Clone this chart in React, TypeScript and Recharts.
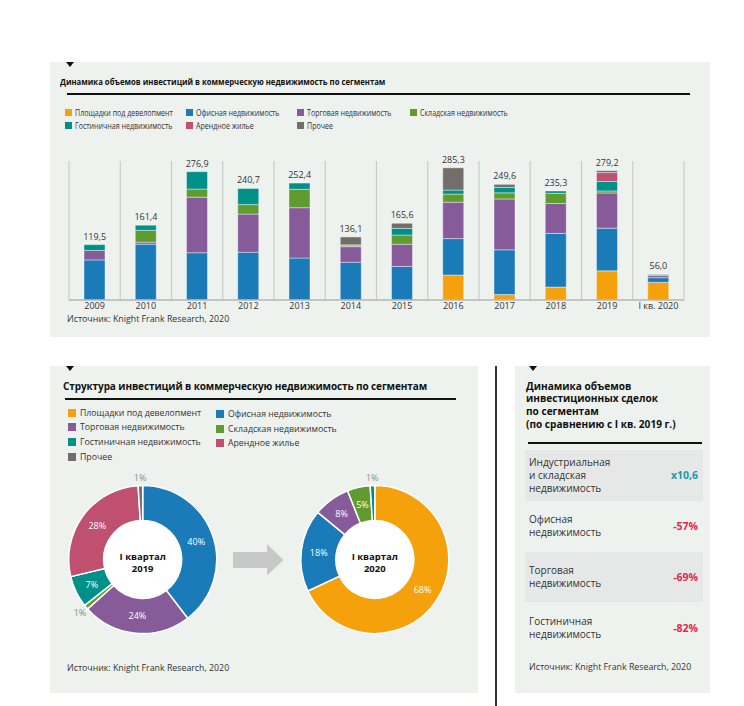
import React from 'react';
import {
  ComposedChart,
  Bar,
  Line,
  XAxis,
  YAxis,
  CartesianGrid,
  LabelList,
  PieChart,
  Pie,
  Cell,
} from 'recharts';

// --- data: investment volume by segment, bln rub ---
const years = ['2009', '2010', '2011', '2012', '2013', '2014', '2015', '2016', '2017', '2018', '2019', 'I кв. 2020'];
const development = [0, 0, 0, 0, 0, 0, 0, 53.9, 11.7, 27.9, 62.9, 38.1];
const office = [86.5, 120.5, 102, 103, 90.6, 81.5, 72.5, 78.6, 96.6, 115.8, 92.1, 10.1];
const retail = [20.5, 4.4, 120, 82.5, 108.6, 33.6, 47.9, 78.6, 109.8, 64.5, 76, 4.5];
const warehouse = [0, 25.5, 17.5, 20.4, 39.8, 2, 19.8, 17.5, 13.2, 22, 4.4, 2.8];
const hotel = [12.5, 11, 37.4, 34.8, 13.4, 2, 14.4, 8.7, 11.7, 5.1, 20.5, 0.5];
const rental = [0, 0, 0, 0, 0, 0, 0, 0, 0, 0, 19, 0];
const other = [0, 0, 0, 0, 0, 17, 11, 48, 6.6, 0, 4.3, 0];
const totals = [119.5, 161.4, 276.9, 240.7, 252.4, 136.1, 165.6, 285.3, 249.6, 235.3, 279.2, 56.0];

const segmentKeys = ['development', 'office', 'retail', 'warehouse', 'hotel', 'rental', 'other'];
const segmentNames = [
  'Площадки под девелопмент',
  'Офисная недвижимость',
  'Торговая недвижимость',
  'Складская недвижимость',
  'Гостиничная недвижимость',
  'Арендное жилье',
  'Прочее',
];

// --- structure, % ---
const pie2019Keys = ['office', 'retail', 'warehouse', 'hotel', 'rental', 'other'];
const pie2019Share = [40, 24, 1, 7, 28, 1];
const pie2020Keys = ['development', 'office', 'retail', 'warehouse', 'hotel'];
const pie2020Share = [68, 18, 8, 5, 1];

// --- change vs I q. 2019 ---
const changeLabels = [
  ['Индустриальная', 'и складская', 'недвижимость'],
  ['Офисная', 'недвижимость'],
  ['Торговая', 'недвижимость'],
  ['Гостиничная', 'недвижимость'],
];
const changeValues = ['x10,6', '-57%', '-69%', '-82%'];

const COLORS: Record<string, string> = {
  development: '#f4a10c',
  office: '#1b7bb8',
  retail: '#875b99',
  warehouse: '#5f9b2f',
  hotel: '#00908a',
  rental: '#c0506f',
  other: '#736e6c',
};

const FONT = '"Open Sans", "Noto Sans", sans-serif';
const PANEL = '#eef2ef';
const SOURCE = 'Источник: Knight Frank Research, 2020';

const barData = years.map((year, i) => ({
  year,
  development: development[i],
  office: office[i],
  retail: retail[i],
  warehouse: warehouse[i],
  hotel: hotel[i],
  rental: rental[i],
  other: other[i],
  total: totals[i],
}));

const pie2019 = pie2019Keys.map((k, i) => ({ key: k, value: pie2019Share[i] }));
const pie2020 = pie2020Keys.map((k, i) => ({ key: k, value: pie2020Share[i] }));

// absolutely placed text, y = vertical centre; sx squeezes a line like the condensed source font
const Text = ({ x, y, size = 9, bold = false, color = '#2b2b2b', sx = 1, center = false, children, style = {} }: any) => {
  const lh = Math.round(size * 1.25);
  const tf = [center ? 'translateX(-50%)' : '', sx !== 1 ? `scaleX(${sx})` : ''].join(' ').trim();
  return (
    <div
      style={{
        position: 'absolute',
        left: x,
        top: y - lh / 2,
        lineHeight: `${lh}px`,
        fontSize: size,
        fontWeight: bold ? 700 : 400,
        color,
        whiteSpace: 'nowrap',
        transform: tf || undefined,
        transformOrigin: 'left center',
        ...style,
      }}
    >
      {children}
    </div>
  );
};

const CenterTitle = ({ x, year }: { x: number; year: string }) => (
  <div
    style={{
      position: 'absolute',
      left: x - 40,
      top: 551,
      width: 80,
      textAlign: 'center',
      fontSize: 9.5,
      lineHeight: '12px',
      fontWeight: 700,
      color: '#111',
    }}
  >
    I квартал
    <br />
    {year}
  </div>
);

const Triangle = ({ x, y }: { x: number; y: number }) => (
  <div
    style={{
      position: 'absolute',
      left: x - 4,
      top: y,
      width: 0,
      height: 0,
      borderLeft: '4px solid transparent',
      borderRight: '4px solid transparent',
      borderTop: '5px solid #111',
    }}
  />
);

const Swatch = ({ x, y, color, size = 7 }: any) => (
  <div style={{ position: 'absolute', left: x, top: y - size / 2, width: size, height: size, background: color }} />
);

const RAD = Math.PI / 180;
const pieLabel = (p: any) => {
  const small = p.value <= 1;
  const r = small ? p.outerRadius + 8 : (p.innerRadius + p.outerRadius) / 2;
  const x = p.cx + r * Math.cos(-p.midAngle * RAD);
  const y = p.cy + r * Math.sin(-p.midAngle * RAD);
  return (
    <text
      x={x}
      y={y}
      fill={small ? '#8c8c8c' : '#ffffff'}
      fontSize={9}
      fontFamily={FONT}
      textAnchor="middle"
      dominantBaseline="central"
    >
      {p.value}%
    </text>
  );
};

// top legend: 4 columns, 2 rows
const topLegendPos = [
  [65, 112], [186, 112], [297, 112], [410, 112],
  [65, 125], [186, 125], [297, 125],
];
// bottom legend: two columns
const bottomLegendPos: Record<string, number[]> = {
  development: [68, 413],
  office: [216, 414],
  retail: [68, 427],
  warehouse: [216, 429],
  hotel: [68, 442],
  rental: [216, 443],
  other: [68, 457],
};

export default function App() {
  return (
    <div
      style={{
        position: 'absolute',
        left: 0,
        top: 0,
        width: 744,
        height: 706,
        background: '#fff',
        overflow: 'hidden',
        fontFamily: FONT,
      }}
    >
      {/* panels */}
      <div style={{ position: 'absolute', left: 50, top: 62, width: 660, height: 275, background: PANEL }} />
      <div style={{ position: 'absolute', left: 50, top: 366, width: 428, height: 327, background: PANEL }} />
      <div style={{ position: 'absolute', left: 515, top: 366, width: 195, height: 327, background: PANEL }} />
      <div style={{ position: 'absolute', left: 495, top: 366, width: 1.5, height: 340, background: '#333' }} />

      {/* ---------- top panel ---------- */}
      <Triangle x={70} y={62} />
      <Text x={60} y={82} size={8.6} bold color="#111" sx={0.9}>
        Динамика объемов инвестиций в коммерческую недвижимость по сегментам
      </Text>
      <div style={{ position: 'absolute', left: 67, top: 93, width: 623, height: 1.5, background: '#111' }} />
      {segmentKeys.map((k, i) => (
        <React.Fragment key={k}>
          <Swatch x={topLegendPos[i][0]} y={topLegendPos[i][1]} color={COLORS[k]} />
          <Text x={topLegendPos[i][0] + 10} y={topLegendPos[i][1]} size={8.5} sx={0.83} color="#333">
            {segmentNames[i]}
          </Text>
        </React.Fragment>
      ))}

      <div style={{ position: 'absolute', left: 0, top: 0 }}>
        <ComposedChart
          width={744}
          height={330}
          data={barData}
          margin={{ top: 161, right: 60, bottom: 10, left: 69 }}
        >
          <CartesianGrid
            horizontal={false}
            stroke="#cbcbcb"
            strokeWidth={1.2}
            verticalCoordinatesGenerator={({ offset }: any) => {
              const left = offset?.left ?? 69;
              const w = offset?.width ?? 615;
              return years.map((_, i) => left + (i * w) / years.length).concat([left + w]);
            }}
          />
          <XAxis
            dataKey="year"
            interval={0}
            height={20}
            tickLine={false}
            tickSize={1}
            axisLine={{ stroke: '#b5b5b5', strokeWidth: 1.5 }}
            tick={{ fontSize: 9, fill: '#333', fontFamily: FONT }}
          />
          <YAxis hide domain={[0, 300]} />
          {segmentKeys.map((k) => (
            <Bar
              key={k}
              dataKey={k}
              stackId="a"
              barSize={21}
              fill={COLORS[k]}
              stroke="#ffffff"
              strokeWidth={0.4}
              isAnimationActive={false}
            />
          ))}
          <Line
            dataKey="total"
            stroke="none"
            dot={false}
            activeDot={false}
            legendType="none"
            isAnimationActive={false}
          >
            <LabelList
              dataKey="total"
              position="top"
              offset={5}
              fontSize={9}
              fill="#333"
              fontFamily={FONT}
              formatter={(v: any) => Number(v).toFixed(1).replace('.', ',')}
            />
          </Line>
        </ComposedChart>
      </div>
      <Text x={67} y={319} size={8.8} color="#333">{SOURCE}</Text>

      {/* ---------- bottom-left panel ---------- */}
      <Triangle x={70} y={366} />
      <Text x={63} y={386} size={10} bold color="#111" style={{ letterSpacing: -0.1 }}>
        Структура инвестиций в коммерческую недвижимость по сегментам
      </Text>
      <div style={{ position: 'absolute', left: 65, top: 398, width: 391, height: 1.5, background: '#111' }} />
      {segmentKeys.map((k, i) => (
        <React.Fragment key={k}>
          <Swatch x={bottomLegendPos[k][0]} y={bottomLegendPos[k][1]} color={COLORS[k]} size={8} />
          <Text x={bottomLegendPos[k][0] + 12} y={bottomLegendPos[k][1]} size={9.3} sx={0.94} color="#333">
            {segmentNames[i]}
          </Text>
        </React.Fragment>
      ))}

      <div style={{ position: 'absolute', left: 50, top: 465 }}>
        <PieChart width={440} height={200} margin={{ top: 0, right: 0, bottom: 0, left: 0 }}>
          <Pie
            data={pie2019}
            dataKey="value"
            cx={92.7}
            cy={94.5}
            innerRadius={39}
            outerRadius={74}
            startAngle={90}
            endAngle={-270}
            stroke="#ffffff"
            strokeWidth={1.5}
            label={pieLabel}
            labelLine={false}
            isAnimationActive={false}
          >
            {pie2019.map((d) => (
              <Cell key={d.key} fill={COLORS[d.key]} />
            ))}
          </Pie>
          <Pie
            data={[{ v: 1 }]}
            dataKey="v"
            cx={92.7}
            cy={94.5}
            innerRadius={0}
            outerRadius={39}
            fill="#ffffff"
            stroke="none"
            isAnimationActive={false}
          />
          <Pie
            data={pie2020}
            dataKey="value"
            cx={324.8}
            cy={94.5}
            innerRadius={39}
            outerRadius={74}
            startAngle={90}
            endAngle={-270}
            stroke="#ffffff"
            strokeWidth={1.5}
            label={pieLabel}
            labelLine={false}
            isAnimationActive={false}
          >
            {pie2020.map((d) => (
              <Cell key={d.key} fill={COLORS[d.key]} />
            ))}
          </Pie>
          <Pie
            data={[{ v: 1 }]}
            dataKey="v"
            cx={324.8}
            cy={94.5}
            innerRadius={0}
            outerRadius={39}
            fill="#ffffff"
            stroke="none"
            isAnimationActive={false}
          />
        </PieChart>
      </div>
      <CenterTitle x={142.7} year="2019" />
      <CenterTitle x={374.8} year="2020" />
      <svg style={{ position: 'absolute', left: 0, top: 0 }} width={744} height={706} pointerEvents="none">
        <polygon
          points="233,552 267,552 267,544 283.5,560 267,575.5 267,568 233,568"
          fill="#c8c8c8"
        />
      </svg>
      <Text x={67} y={668} size={8.8} color="#333">{SOURCE}</Text>

      {/* ---------- right panel ---------- */}
      <Triangle x={533} y={366} />
      {['Динамика объемов', 'инвестиционных сделок', 'по сегментам', '(по сравнению с I кв. 2019 г.)'].map((t, i) => (
        <Text key={t} x={526} y={386 + i * 12.8} size={10.1} bold color="#111">{t}</Text>
      ))}
      <div style={{ position: 'absolute', left: 528, top: 442, width: 174, height: 1.5, background: '#111' }} />
      {changeLabels.map((lines, i) => {
        const top = [450, 500, 551.7, 602.3][i];
        const h = i === 1 ? 51.7 : 50.6;
        return (
          <div
            key={i}
            style={{
              position: 'absolute',
              left: 525,
              top,
              width: 178,
              height: h,
              background: i % 2 === 0 ? '#e6e8e7' : 'transparent',
              display: 'flex',
              alignItems: 'center',
              justifyContent: 'space-between',
              boxSizing: 'border-box',
              padding: '0 5px 0 4px',
            }}
          >
            <div style={{ fontSize: 10, lineHeight: '12.8px', color: '#333' }}>
              {lines.map((l) => (
                <div key={l}>{l}</div>
              ))}
            </div>
            <div
              style={{
                fontSize: 10.5,
                fontWeight: 700,
                color: i === 0 ? '#1b9aa6' : '#e5264f',
              }}
            >
              {changeValues[i]}
            </div>
          </div>
        );
      })}
      <Text x={529} y={667} size={8.8} color="#333">{SOURCE}</Text>
    </div>
  );
}
